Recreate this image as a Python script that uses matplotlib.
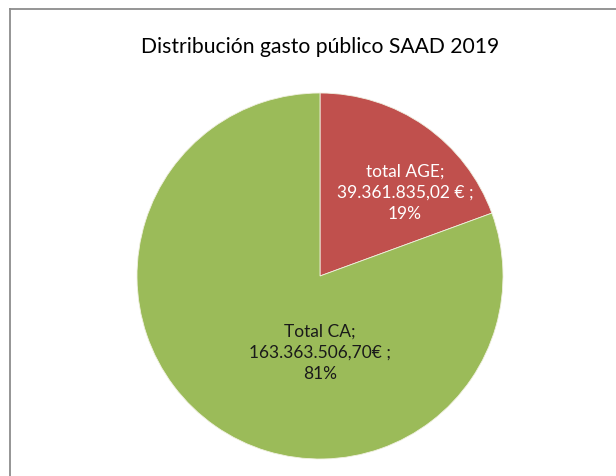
import matplotlib.pyplot as plt
from matplotlib.lines import Line2D

# datos del gráfico
labels = ["total AGE", "Total CA"]
values = [39361835.02, 163363506.70]
value_text = ["39.361.835,02 € ;", "163.363.506,70€ ;"]
colors = ["#C0504D", "#9BBB59"]
text_colors = ["white", "#1a1a1a"]
title = "Distribución gasto público SAAD 2019"

plt.rcParams['font.family'] = ['Lato', 'DejaVu Sans']

fig = plt.figure(figsize=(6.16, 4.77), dpi=100)
fig.patch.set_facecolor('white')

# radio 183 px, centro (320, 277)
r_px = 183
cx, cy = 320, 477 - 277
ax = fig.add_axes([(cx - r_px) / 616, (cy - r_px) / 477, 2 * r_px / 616, 2 * r_px / 477])
ax.pie(values, colors=colors, startangle=90, counterclock=False, radius=1,
       wedgeprops=dict(edgecolor='#f0f0e0', linewidth=0.6))
ax.set_xlim(-1, 1)
ax.set_ylim(-1, 1)
ax.set_aspect('auto')
ax.axis('off')

total = sum(values)
pos = [(85 / r_px, 84 / r_px), (0, -76 / r_px)]
for i in range(len(values)):
    pct = round(values[i] / total * 100)
    txt = "%s;\n%s\n%d%%" % (labels[i], value_text[i], pct)
    ax.text(pos[i][0], pos[i][1], txt, ha='center', va='center', color=text_colors[i],
            fontsize=12.5, linespacing=1.42)

fig.text(cx / 616, 1 - 47 / 477, title, ha='center', va='center', fontsize=15.2, color='black')

# marco gris del gráfico
fig.add_artist(Line2D([10 / 616, 10 / 616], [0, 1 - 10 / 477], color='#8c8c8c', linewidth=1.3))
fig.add_artist(Line2D([10 / 616, 1], [1 - 10 / 477, 1 - 10 / 477], color='#8c8c8c', linewidth=1.3))

fig.savefig("out.png", dpi=100, facecolor='white')
